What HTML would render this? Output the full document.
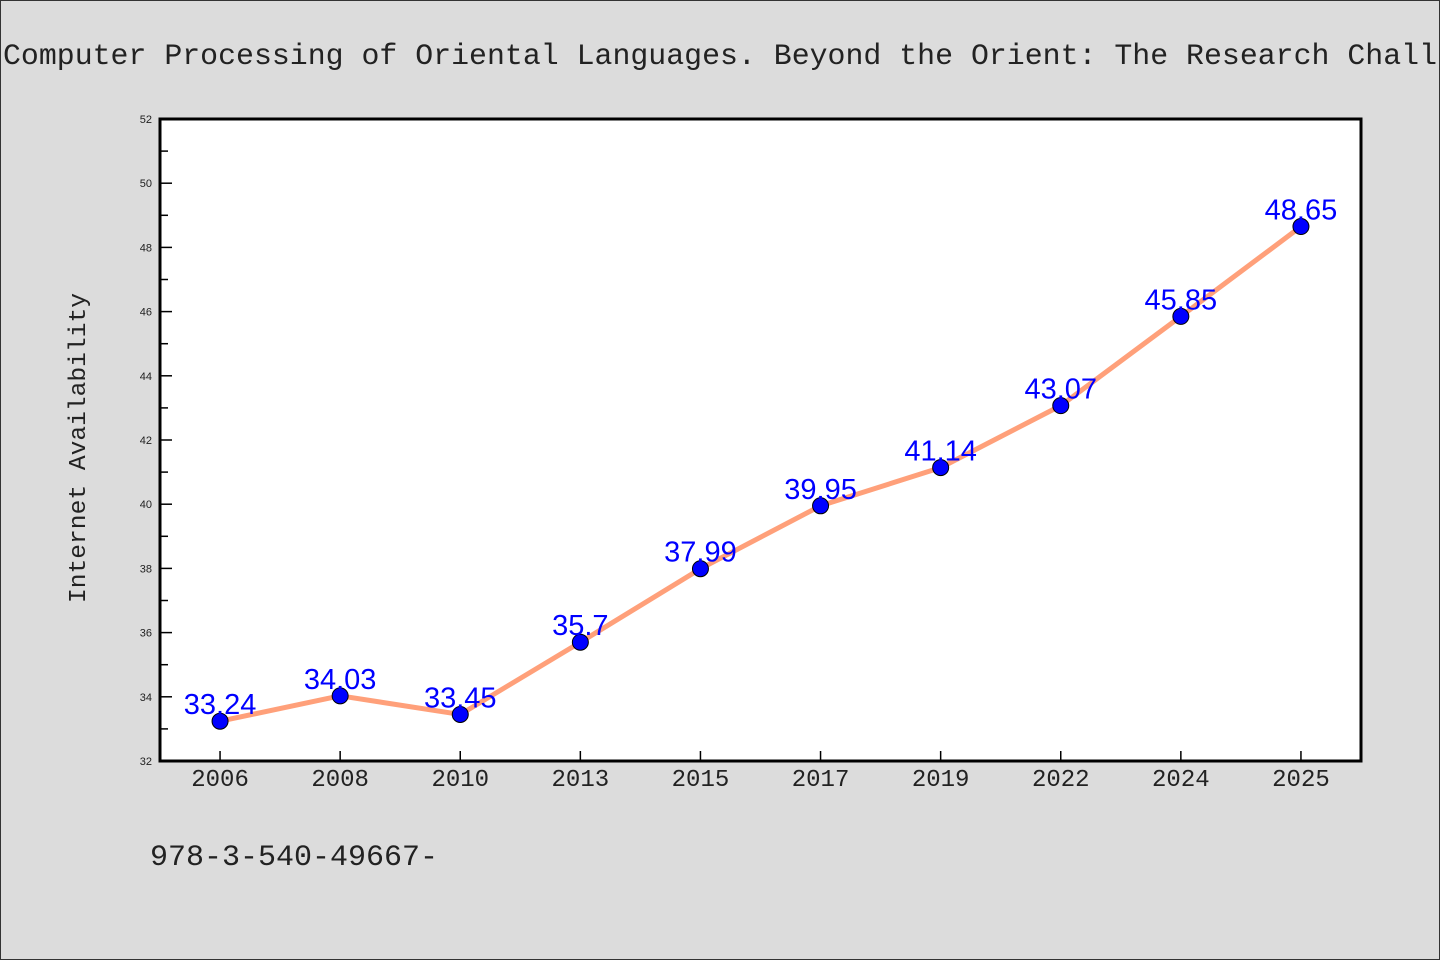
<!DOCTYPE html>
<html><head><meta charset="utf-8"><style>
html,body{margin:0;padding:0;background:#dcdcdc}
svg{display:block}
</style></head><body>
<svg width="1440" height="960" xmlns="http://www.w3.org/2000/svg" font-family="WenQuanYi Zen Hei Mono, Liberation Mono, monospace">
<rect x="0.5" y="0.5" width="1439" height="959" fill="#dcdcdc" stroke="#333"/>
<text x="3" y="64" font-size="30" fill="#222" textLength="1434" lengthAdjust="spacingAndGlyphs">Computer Processing of Oriental Languages. Beyond the Orient: The Research Chall</text>
<rect x="160" y="119" width="1201" height="642" fill="#fff"/>
<g id="yaxis"></g>
<g id="xaxis"></g>
<g id="series"></g>
<rect x="160" y="119" width="1201" height="642" fill="none" stroke="#000" stroke-width="3"/>
<text transform="translate(85,448) rotate(-90)" text-anchor="middle" font-size="24" fill="#222" textLength="310" lengthAdjust="spacingAndGlyphs">Internet Availability</text>
<text x="150" y="865" font-size="30" fill="#222" textLength="288" lengthAdjust="spacingAndGlyphs">978-3-540-49667-</text>
</svg>
<script>
const categories=["2006","2008","2010","2013","2015","2017","2019","2022","2024","2025"];
const values=[33.24,34.03,33.45,35.7,37.99,39.95,41.14,43.07,45.85,48.65];
const valueLabels=["33.24","34.03","33.45","35.7","37.99","39.95","41.14","43.07","45.85","48.65"];
const yTicks=[32,34,36,38,40,42,44,46,48,50,52];
const NS="http://www.w3.org/2000/svg";
const L=160,R=1361,T=119,B=761,yMin=32,yMax=52;
const band=(R-L)/categories.length;
function xs(i){return L+band*(i+0.5);}
function ys(v){return B-(v-yMin)/(yMax-yMin)*(B-T);}
function mk(tag,attrs,parent){const e=document.createElementNS(NS,tag);for(const k in attrs)e.setAttribute(k,attrs[k]);parent.appendChild(e);return e;}
const ya=document.getElementById('yaxis'),xa=document.getElementById('xaxis'),sg=document.getElementById('series');
yTicks.forEach((t,i)=>{
  const y=ys(t);
  const ln=mk('line',{x1:L,x2:L+12,y1:y,y2:y,stroke:'#000','stroke-width':1.5},ya);
  
  
  const tx=mk('text',{x:152,y:y+4,'text-anchor':'end','font-size':11,fill:'#222','font-family':"Liberation Sans, sans-serif"},ya);
  tx.textContent=t;
  
  
  if(i<yTicks.length-1){
    const ym=ys(t+1);
    const mn=mk('line',{x1:L,x2:L+8,y1:ym,y2:ym,stroke:'#000','stroke-width':1.5},ya);
    
    
  }
});
categories.forEach((c,i)=>{
  const x=xs(i);
  const ln=mk('line',{x1:x,x2:x,y1:B,y2:B-10,stroke:'#000','stroke-width':1.5},xa);
  
  
  const tx=mk('text',{x:x,y:786,'text-anchor':'middle','font-size':24,fill:'#222'},xa);
  tx.textContent=c;
  
  
});
const pl=mk('polyline',{points:values.map((v,i)=>xs(i)+','+ys(v)).join(' '),fill:'none',stroke:'#ffa07a','stroke-width':5,'stroke-linejoin':'round'},sg);


values.forEach((v,i)=>{
  const c=mk('circle',{cx:xs(i),cy:ys(v),r:8,fill:'#0000ff',stroke:'#000','stroke-width':1},sg);
  
  
  const t=mk('text',{x:xs(i),y:ys(v)-7,'text-anchor':'middle','font-size':29,fill:'#0000ff','font-family':"Liberation Sans, sans-serif"},sg);
  t.textContent=valueLabels[i];
  
  
});
</script>
</body></html>
